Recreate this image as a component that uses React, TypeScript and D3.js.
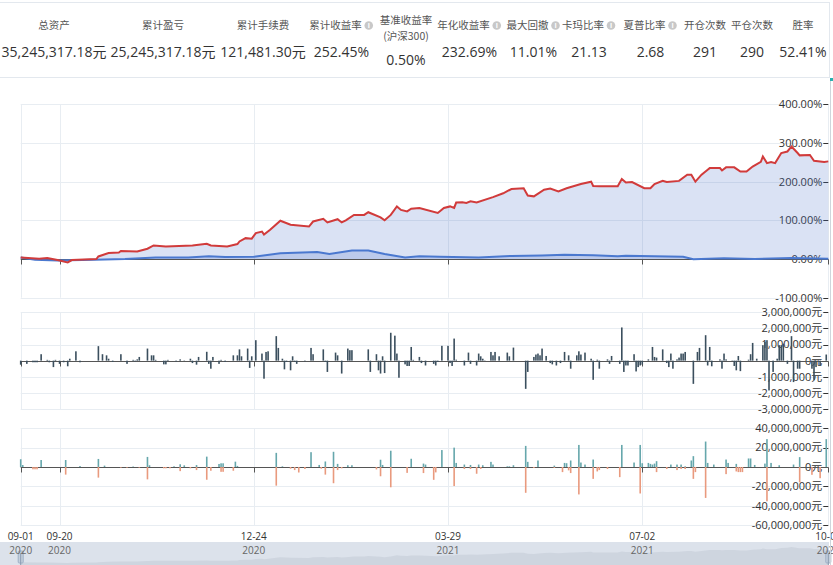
import React, { useEffect, useRef } from "react";
import * as d3 from "d3";

// all x values are calendar days counted from 2020-09-01
const START = new Date(2020, 8, 1);
const END = new Date(2021, 9, 1);
const tickDays = [0, 19, 114, 209, 304, 395];

// summary row
const statLabels = ["总资产", "累计盈亏", "累计手续费", "累计收益率", "基准收益率", "年化收益率", "最大回撤", "卡玛比率", "夏普比率", "开仓次数", "平仓次数", "胜率"];
const statValues = ["35,245,317.18元", "25,245,317.18元", "121,481.30元", "252.45%", "0.50%", "232.69%", "11.01%", "21.13", "2.68", "291", "290", "52.41%"];
const statInfo = [false, false, false, true, false, true, true, true, true, false, false, false];

// cumulative return of the strategy (%)
const stratDays = [0, 9, 13, 18, 23, 25, 37, 38, 43, 48, 49, 57, 62, 65, 71, 84, 91, 93, 101, 106, 107, 110, 113, 115, 118, 119, 122, 127, 132, 141, 143, 148, 150, 155, 157, 159, 163, 168, 170, 176, 178, 181, 184, 186, 189, 191, 195, 204, 207, 210, 212, 213, 216, 218, 220, 223, 231, 236, 240, 246, 248, 251, 256, 259, 263, 267, 274, 279, 280, 283, 292, 294, 296, 299, 305, 308, 310, 314, 316, 322, 326, 328, 330, 333, 336, 337, 342, 343, 345, 349, 352, 355, 358, 362, 363, 365, 367, 369, 372, 375, 377, 380, 381, 386, 388, 393, 395];
const stratReturn = [4, 1, 2.5, -2.6, -8.8, -2.6, 0, 6.7, 15.5, 17, 21, 19.6, 26.6, 35, 32.6, 35, 39.5, 35, 32.6, 38.8, 45.5, 54, 52.5, 67, 71, 63, 75.6, 99, 88.6, 84, 97, 104, 94.6, 103, 94.6, 100, 114, 114, 121, 107.6, 100, 114, 136, 127, 123, 130, 132, 119, 132, 136, 132, 146, 147, 145, 149, 146, 160, 170, 181, 183, 164, 162, 179, 182, 175, 183, 194, 200, 189, 188, 188, 207, 198, 199, 183, 183, 194, 202, 199, 202, 218, 218, 200, 218, 231, 235, 235, 229, 237, 237, 226, 226, 239, 251, 265, 248, 251, 248, 274, 278, 291, 274, 268, 269, 254, 251, 252.45];

// benchmark (沪深300) return (%)
const benchDays = [0, 7, 18, 36, 51, 66, 82, 92, 100, 114, 127, 145, 151, 162, 170, 178, 188, 195, 205, 224, 240, 255, 266, 280, 292, 296, 324, 329, 344, 359, 377, 395];
const benchReturn = [4, -2, -3.6, -2, 0, 4, 4, 7, 5, 6, 15, 18, 13, 22, 22, 13, 4, 7, 6, 4, 8, 9, 11, 10, 7, 8.5, 6, -0.5, 2, 0, 2.5, 1];

// daily profit and loss (million 元)
const pnlDays = [0, 3, 6, 7, 8, 10, 13, 14, 16, 17, 19, 21, 23, 24, 27, 29, 38, 40, 42, 43, 45, 49, 52, 55, 56, 57, 58, 62, 64, 65, 66, 70, 71, 72, 76, 78, 80, 83, 84, 86, 87, 91, 92, 93, 94, 97, 98, 100, 104, 106, 107, 108, 111, 112, 113, 115, 118, 119, 120, 121, 125, 126, 128, 129, 130, 132, 133, 134, 135, 139, 142, 143, 148, 149, 150, 154, 155, 157, 160, 161, 162, 170, 171, 174, 175, 176, 177, 178, 181, 183, 184, 185, 188, 189, 190, 191, 192, 195, 196, 198, 202, 203, 204, 206, 209, 210, 211, 212, 213, 217, 219, 220, 223, 224, 225, 226, 227, 230, 231, 232, 234, 238, 239, 241, 247, 248, 251, 252, 253, 254, 255, 257, 259, 260, 262, 264, 266, 268, 269, 272, 273, 274, 276, 279, 280, 282, 283, 287, 288, 289, 293, 294, 295, 296, 297, 300, 301, 302, 303, 304, 307, 309, 310, 311, 314, 316, 317, 318, 319, 321, 322, 323, 324, 325, 329, 331, 332, 335, 336, 337, 338, 342, 343, 344, 345, 348, 349, 350, 351, 352, 356, 357, 358, 360, 363, 364, 365, 366, 368, 370, 371, 372, 373, 375, 377, 378, 380, 381, 387, 388, 389, 391, 394];
const pnlMillion = [-0.25, -0.2, -0.1, -0.1, -0.1, 0.4, 0.05, -0.1, -0.4, 0.05, -0.2, -0.1, -0.35, 0.12, 0.58, -0.1, 0.9, 0.4, 0.33, 0.12, -0.08, 0.4, -0.2, 0.05, -0.05, 0.08, 0.23, 0.75, 0.33, 0.33, 0.05, -0.23, -0.23, 0.05, -0.05, 0.08, 0.02, 0.12, -0.15, -0.25, 0.23, 0.55, -0.2, -0.5, 0.23, -0.2, 0.05, -0.08, 0.33, 0.33, 0.7, 0.27, 0.75, -0.45, 0.27, 1.27, 0.44, -1.12, 0.54, 0.58, 1.52, 0.79, 0.12, -0.54, -0.08, -0.6, 0.27, -0.08, -0.2, -0.04, 0.79, 0.4, 0.7, -0.08, -0.7, 0.5, 0.33, -0.8, 0.75, 0.65, 0.65, 0.7, -0.7, 0.4, -0.6, -0.8, 0.27, -0.77, 1.73, 1.55, 0.44, -1.06, -0.23, -0.33, -0.33, 0.85, 0.05, 0.23, -0.15, -0.3, -0.2, -0.3, -0.08, 0.92, 0.92, -0.15, -0.33, 1.37, 0.06, -0.3, 0.5, -0.2, -0.3, 0.44, 0.27, 0.12, 0.02, 0.54, 0.33, 0.54, 0.27, 0.5, 0.27, 0.81, -1.75, -0.7, 0.23, 0.38, 0.44, 0.33, 0.75, 0.29, -0.15, -0.23, -0.3, -0.15, 0.54, 0.33, -0.5, 0.33, 0.58, 0.38, 0.5, 0.12, -1.19, 0.06, -0.5, 0.08, -0.2, 0.29, -0.2, 2.06, -0.7, -0.3, -0.3, 0.4, -0.67, -0.4, -0.3, -0.25, 0.08, 0.85, 0.23, 0.19, 0.7, -0.15, -0.4, 0.44, -0.5, 0.08, 0.19, 0.44, 0.44, 0.54, -1.44, 0.54, 0.79, 1.58, -0.3, 0.85, -0.35, 0.08, -0.5, 0.44, 0.08, 0.02, -0.33, -0.6, 0.29, -0.65, 0.06, 0.4, 1.1, 0.12, 0.96, 1.17, 1.27, -1.85, -0.7, 0.12, 0.96, 0.96, 1.06, -0.2, 1.52, -1.33, -0.5, -0.5, -0.5, -1.19, -0.4, -0.3, 0.38];

// opened / closed turnover per day (million 元)
const openDays = [0, 1, 10, 22, 29, 38, 41, 55, 62, 63, 75, 78, 80, 86, 91, 97, 98, 99, 105, 106, 125, 128, 142, 146, 149, 153, 155, 160, 162, 176, 177, 181, 191, 197, 198, 206, 212, 213, 217, 220, 224, 226, 230, 231, 238, 239, 241, 247, 248, 253, 261, 266, 267, 269, 273, 274, 276, 280, 294, 300, 303, 304, 307, 308, 309, 310, 311, 318, 321, 323, 325, 328, 329, 335, 336, 339, 345, 346, 350, 356, 357, 359, 364, 365, 367, 371, 378, 381, 394];
const openMillion = [8, 2, 7.2, 7.2, 1, 8.3, 1.4, 0.5, 10.4, 1.8, 0.7, 2.8, 1.7, 2, 10.7, 3.1, 3.8, 3.8, 5.5, 1.1, 14.6, 0.7, 15.3, 2.1, 5.7, 15.7, 3.2, 1.8, 1.8, 7.5, 2.1, 16.8, 8.5, 3.5, 2.5, 17.5, 20, 4.2, 2.5, 2.1, 2.5, 1.8, 5.3, 2.5, 0.7, 0.7, 1.8, 21.8, 5.3, 6.7, 1.4, 4.2, 3.9, 6.7, 22.8, 4.6, 2.5, 7.7, 22.8, 4.6, 22.8, 3.9, 4.2, 3.2, 2.5, 3.5, 6, 2.5, 2.5, 2.5, 0.7, 6.7, 11.2, 26.3, 4.2, 2.5, 7.7, 4.2, 3.2, 8.8, 8.8, 2.1, 3.5, 28.8, 4.2, 1.8, 2.5, 10.2, 28.8];
const closeDays = [6, 7, 8, 22, 38, 49, 52, 58, 62, 70, 71, 73, 78, 83, 86, 91, 93, 98, 99, 104, 125, 132, 134, 136, 139, 147, 149, 153, 155, 157, 174, 176, 181, 189, 197, 202, 203, 212, 217, 220, 223, 225, 247, 251, 261, 265, 268, 269, 273, 280, 282, 283, 287, 293, 303, 311, 316, 321, 323, 325, 329, 330, 335, 345, 350, 351, 352, 353, 365, 381, 387, 391];
const closeMillion = [-2.4, -2.4, -2.4, -7.9, -11, -0.7, -0.7, -0.7, -12.8, -1.4, -1.4, -1.4, -4.3, -1.4, -3.2, -13.2, -3.9, -5, -5, -3.9, -19.3, -1.8, -3.2, -5.7, -2.1, -1.8, -7.9, -16.8, -3.2, -1.4, -2.5, -9.6, -21, -6.1, -6.3, -13.3, -5.6, -19.7, -2.1, -2.1, -7, -2.1, -26.7, -1, -1, -5.3, -3.5, -6.3, -28.4, -12.3, -4.6, -3.2, -2.1, -10.5, -27.4, -5.3, -2.1, -3.2, -2.1, -2.1, -12.3, -5.3, -32, -7.4, -4.6, -5.3, -5.3, -5.3, -35.5, -15.8, -8.1, -11.6];

const retTicks = [-100, 0, 100, 200, 300, 400];
const pnlTicks = [-3, -2, -1, 0, 1, 2, 3];
const volTicks = [-60, -40, -20, 0, 20, 40];

const W = 833;
const H = 565;
const LEFT = 20.7;
const RIGHT = 828.3;
const statX = [54, 163, 263, 341.5, 406, 469.5, 533.5, 589, 650.5, 705, 752, 803];
const FONT = "'Open Sans', 'Noto Sans CJK SC', sans-serif";
const CJK = "'Noto Sans CJK SC', sans-serif";

const day = (d: number) => d3.timeDay.offset(START, d);
const yuan = (m: number) => (m < 0 ? "-" : "") + d3.format(",")(Math.abs(m) * 1e6) + "元";

export default function App() {
  const ref = useRef<SVGSVGElement>(null);

  useEffect(() => {
    document.body.style.margin = "0";
    const svg = d3.select(ref.current);
    svg.selectAll("*").remove();

    const x = d3.scaleTime().domain([START, END]).range([LEFT, RIGHT]);
    const px = (v: number) => Math.round(v) + 0.5;

    // summary box
    svg.append("rect").attr("x", -1).attr("y", 2.5).attr("width", 830.5).attr("height", 75)
      .attr("fill", "#fff").attr("stroke", "#e3e8ee");

    statLabels.forEach((label, i) => {
      const cx = statX[i];
      if (label === "基准收益率") {
        svg.append("text").attr("x", cx).attr("y", 24).attr("text-anchor", "middle")
          .attr("font-family", CJK).attr("font-size", 10.5).attr("fill", "#555").text(label);
        svg.append("text").attr("x", cx).attr("y", 40).attr("text-anchor", "middle")
          .attr("font-family", CJK).attr("font-size", 10.5).attr("fill", "#555").text("(沪深300)");
        svg.append("text").attr("x", cx).attr("y", 65).attr("text-anchor", "middle")
          .attr("font-family", FONT).attr("font-size", 14).attr("fill", "#333").text(statValues[i]);
        return;
      }
      const t = svg.append("text").attr("y", 29).attr("font-family", CJK)
        .attr("font-size", 10.5).attr("fill", "#555").text(label);
      const w = (t.node() as SVGTextElement).getComputedTextLength();
      const total = statInfo[i] ? w + 12 : w;
      const x0 = cx - total / 2;
      t.attr("x", x0);
      if (statInfo[i]) {
        const ix = x0 + w + 7;
        svg.append("circle").attr("cx", ix).attr("cy", 25.5).attr("r", 4.3).attr("fill", "#c8c8c8");
        svg.append("text").attr("x", ix).attr("y", 28.3).attr("text-anchor", "middle")
          .attr("font-family", FONT).attr("font-weight", 700).attr("font-size", 7)
          .attr("fill", "#fff").text("i");
      }
      svg.append("text").attr("x", cx).attr("y", 57).attr("text-anchor", "middle")
        .attr("font-family", FONT).attr("font-size", 14).attr("fill", "#333").text(statValues[i]);
    });

    // shared frame for the three panels
    function panel(top: number, bottom: number, domain: [number, number], ticks: number[], fmt: (v: number) => string) {
      const y = d3.scaleLinear().domain(domain).range([bottom, top]);
      const g = svg.append("g");
      g.selectAll("line.h").data(ticks).join("line").attr("class", "h")
        .attr("x1", LEFT).attr("x2", RIGHT).attr("y1", (d) => px(y(d))).attr("y2", (d) => px(y(d)))
        .attr("stroke", "#e8edf2");
      g.selectAll("line.v").data(tickDays).join("line").attr("class", "v")
        .attr("x1", (d) => px(x(day(d)))).attr("x2", (d) => px(x(day(d))))
        .attr("y1", top).attr("y2", bottom).attr("stroke", "#e8edf2");
      g.selectAll("line.yt").data(ticks).join("line").attr("class", "yt")
        .attr("x1", RIGHT - 5).attr("x2", RIGHT).attr("y1", (d) => px(y(d))).attr("y2", (d) => px(y(d)))
        .attr("stroke", "#333");
      g.selectAll("text.yl").data(ticks).join("text").attr("class", "yl")
        .attr("x", RIGHT - 6).attr("y", (d) => y(d)).attr("dy", "0.35em")
        .attr("text-anchor", "end").attr("font-family", FONT).attr("font-size", 11)
        .attr("fill", "#333").text(fmt);
      return y;
    }

    function zeroAxis(y: d3.ScaleLinear<number, number>) {
      const z = px(y(0));
      svg.append("line").attr("x1", LEFT).attr("x2", RIGHT).attr("y1", z).attr("y2", z).attr("stroke", "#555");
      svg.append("g").selectAll("line").data(tickDays).join("line")
        .attr("x1", (d) => px(x(day(d)))).attr("x2", (d) => px(x(day(d))))
        .attr("y1", z).attr("y2", z + 5).attr("stroke", "#555");
    }

    // returns panel
    const yRet = panel(104.3, 297.7, [-100, 400], retTicks, (v) => v.toFixed(2) + "%");
    const strat = stratDays.map((d, i) => ({ date: day(d), v: stratReturn[i] }));
    const bench = benchDays.map((d, i) => ({ date: day(d), v: benchReturn[i] }));
    const area = d3.area<{ date: Date; v: number }>().x((d) => x(d.date)).y0(yRet(0)).y1((d) => yRet(d.v));
    const line = d3.line<{ date: Date; v: number }>().x((d) => x(d.date)).y((d) => yRet(d.v));
    svg.append("path").attr("d", area(strat)).attr("fill", "rgba(70,110,200,0.2)");
    svg.append("path").attr("d", area(bench)).attr("fill", "rgba(70,110,200,0.2)");
    zeroAxis(yRet);
    svg.append("path").attr("d", line(bench)).attr("fill", "none").attr("stroke", "#4a78cf").attr("stroke-width", 2);
    svg.append("path").attr("d", line(strat)).attr("fill", "none").attr("stroke", "#d13b3b").attr("stroke-width", 2);

    // daily pnl panel
    const yPnl = panel(312.3, 409, [-3, 3], pnlTicks, yuan);
    zeroAxis(yPnl);
    svg.append("g").selectAll("rect").data(pnlDays.map((d, i) => ({ d, v: pnlMillion[i] }))).join("rect")
      .attr("x", (p) => x(day(p.d)) - 0.8).attr("width", 1.6)
      .attr("y", (p) => Math.min(yPnl(p.v), yPnl(0))).attr("height", (p) => Math.abs(yPnl(p.v) - yPnl(0)))
      .attr("fill", "#3b4f5e");

    // turnover panel
    const yVol = panel(428.3, 525, [-60, 40], volTicks, (v) => yuan(v));
    zeroAxis(yVol);
    svg.append("g").selectAll("rect").data(openDays.map((d, i) => ({ d, v: openMillion[i] }))).join("rect")
      .attr("x", (p) => x(day(p.d)) - 0.8).attr("width", 1.6)
      .attr("y", (p) => yVol(p.v)).attr("height", (p) => yVol(0) - yVol(p.v))
      .attr("fill", "#66a7ac");
    svg.append("g").selectAll("rect").data(closeDays.map((d, i) => ({ d, v: closeMillion[i] }))).join("rect")
      .attr("x", (p) => x(day(p.d)) - 0.8).attr("width", 1.6)
      .attr("y", yVol(0)).attr("height", (p) => yVol(p.v) - yVol(0))
      .attr("fill", "#e99a7e");

    // data zoom slider
    const sTop = 542;
    const sBot = 575;
    svg.append("rect").attr("x", 0).attr("y", sTop).attr("width", 829).attr("height", sBot - sTop)
      .attr("fill", "rgba(167,183,204,0.4)");
    const yShadow = d3.scaleLinear().domain(d3.extent(stratReturn) as [number, number]).range([563, 547]);
    const shadow = d3.area<{ date: Date; v: number }>().x((d) => x(d.date)).y0(sBot).y1((d) => yShadow(d.v));
    svg.append("path").attr("d", shadow(strat)).attr("fill", "rgba(47,69,84,0.08)");
    [LEFT, RIGHT].forEach((hx) => {
      svg.append("rect").attr("x", hx - 2.5).attr("y", 551).attr("width", 5).attr("height", 12)
        .attr("rx", 1).attr("fill", "#c4cfdd").attr("stroke", "#9fb0c6");
      svg.append("line").attr("x1", hx).attr("x2", hx).attr("y1", 553).attr("y2", 565).attr("stroke", "#8a9ab0");
    });

    // x-axis labels (month-day over year)
    const xl = svg.append("g");
    xl.selectAll("text.md").data(tickDays).join("text").attr("class", "md")
      .attr("x", (d) => x(day(d))).attr("y", 540).attr("text-anchor", "middle")
      .attr("font-family", FONT).attr("font-size", 10).attr("fill", "#333")
      .text((d) => d3.timeFormat("%m-%d")(day(d)));
    xl.selectAll("text.yr").data(tickDays).join("text").attr("class", "yr")
      .attr("x", (d) => x(day(d))).attr("y", 553.5).attr("text-anchor", "middle")
      .attr("font-family", FONT).attr("font-size", 10).attr("fill", "#666")
      .text((d) => d3.timeFormat("%Y")(day(d)));

    // right edge of the container
    svg.append("line").attr("x1", 830.5).attr("x2", 830.5).attr("y1", 78).attr("y2", H).attr("stroke", "#cfd5dc");
    svg.append("rect").attr("x", 830).attr("y", 78).attr("width", 3).attr("height", 3).attr("fill", "#2ab0b0");
  }, []);

  return <svg ref={ref} width={W} height={H} style={{ display: "block", background: "#fff" }} />;
}
